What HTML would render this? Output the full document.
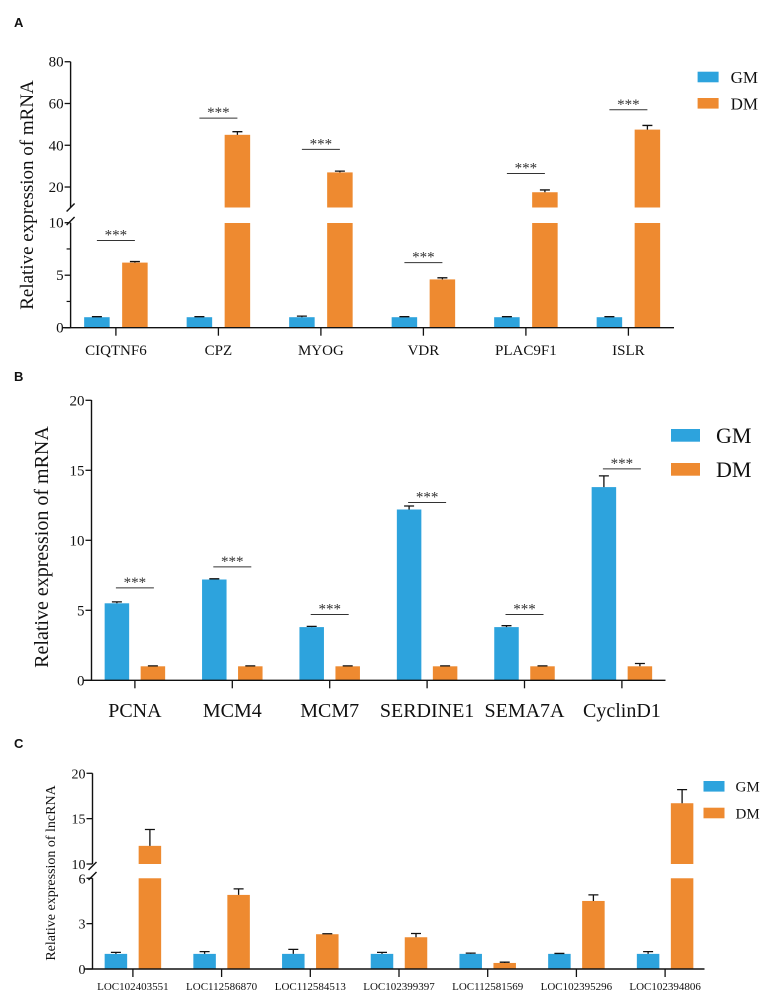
<!DOCTYPE html>
<html><head><meta charset="utf-8"><style>
body{margin:0;background:#fff;}
svg{display:block;font-family:"Liberation Serif",serif;}
</style></head><body>
<svg id="fig" width="762" height="991" viewBox="0 0 762 991" xmlns="http://www.w3.org/2000/svg"></svg>
<script>
// Panel A data
const catsA = ["CIQTNF6","CPZ","MYOG","VDR","PLAC9F1","ISLR"];
const gmA = [1,1,1,1,1,1];
const gmErrA = [1.05,1.05,1.1,1.05,1.05,1.05];
const dmA = [6.2,45,27,4.6,17.5,47.5];
const dmErrA = [6.3,46.5,27.6,4.75,18.6,49.5];
const sigA = [8.3,53,38,6.2,26.5,57];
// Panel B data
const catsB = ["PCNA","MCM4","MCM7","SERDINE1","SEMA7A","CyclinD1"];
const gmB = [5.5,7.2,3.8,12.2,3.8,13.8];
const gmErrB = [5.6,7.25,3.85,12.45,3.9,14.6];
const dmB = [1,1,1,1,1,1];
const dmErrB = [1.03,1.03,1.03,1.03,1.03,1.2];
const sigB = [6.6,8.1,4.7,12.7,4.7,15.1];
// Panel C data
const catsC = ["LOC102403551","LOC112586870","LOC112584513","LOC102399397","LOC112581569","LOC102395296","LOC102394806"];
const gmC = [1,1,1,1,1,1,1];
const gmErrC = [1.1,1.15,1.3,1.1,1.05,1.03,1.15];
const dmC = [12,4.9,2.3,2.1,0.4,4.5,16.7];
const dmErrC = [13.8,5.3,2.33,2.35,0.45,4.9,18.2];
const ticksA = [0,5,10,20,40,60,80];
const ticksB = [0,5,10,15,20];
const ticksC = [0,3,6,10,15,20];

const BLUE="#2da3dd", ORANGE="#ee8a30";
const NS="http://www.w3.org/2000/svg";
const svg=document.getElementById('fig');
function el(tag,attrs,parent){const e=document.createElementNS(NS,tag);for(const k in attrs)e.setAttribute(k,attrs[k]);(parent||svg).appendChild(e);return e;}
function txt(s,attrs,parent){const t=el('text',attrs,parent);t.textContent=s;return t;}

function panel(cfg){
  const g=el('g',{});
  
  
  const y=cfg.y;
  function bar(cx,w,v,color,name){
    const parts=cfg.segs(v);
    parts.forEach(p=>{
      const r=el('rect',{x:cx-w/2,y:p[1],width:w,height:p[0]-p[1],fill:color},g);
      
      
    });
  }
  function err(cx,v,e,cap){
    if(e<=v)return;
    const l=el('path',{d:`M${cx} ${y(v)}V${y(e)}M${cx-cap} ${y(e)}H${cx+cap}`,stroke:'#111','stroke-width':1.3,fill:'none'},g);
    
    
  }
  cfg.cats.forEach((c,i)=>{
    const tx=cfg.x0+i*cfg.step;
    bar(tx-cfg.off,cfg.bw,cfg.gm[i],BLUE,'bar-gm-'+c.toLowerCase());
    err(tx-cfg.off,cfg.gm[i],cfg.gmErr[i],cfg.cap);
    bar(tx+cfg.off,cfg.bw,cfg.dm[i],ORANGE,'bar-dm-'+c.toLowerCase());
    err(tx+cfg.off,cfg.dm[i],cfg.dmErr[i],cfg.cap);
    const tk=el('line',{x1:tx,x2:tx,y1:cfg.zero,y2:cfg.zero+8,stroke:'#111','stroke-width':1.3},g);
    
    
    const lb=txt(c,{x:tx,y:cfg.labY,'font-size':cfg.labFs,'text-anchor':'middle',fill:'#111'},g);
    
    
    if(cfg.sig){
      const sy=y(cfg.sig[i]);
      const sl=el('line',{x1:tx-19,x2:tx+19,y1:sy,y2:sy,stroke:'#333','stroke-width':1},g);
      
      
      const st=txt('***',{x:tx,y:sy-1,'font-size':15,'text-anchor':'middle',fill:'#333'},g);
      
      
    }
  });
  const ax=el('path',{d:cfg.axisPath,stroke:'#111','stroke-width':1.4,fill:'none'},g);
  
  
  const xa=el('line',{x1:cfg.ax-8,x2:cfg.axEnd,y1:cfg.zero,y2:cfg.zero,stroke:'#111','stroke-width':1.4},g);
  
  
  cfg.ticks.forEach(t=>{
    const ty=y(t);
    const l=el('line',{x1:cfg.ax-6,x2:cfg.ax,y1:ty,y2:ty,stroke:'#111','stroke-width':1.3},g);
    
    
    const tl=txt(String(t),{x:cfg.ax-7,y:ty+5,'font-size':cfg.tickFs,'text-anchor':'end',fill:'#111'},g);
    
    
  });
  (cfg.minor||[]).forEach(t=>{
    const ty=y(t);
    const l=el('line',{x1:cfg.ax-4,x2:cfg.ax,y1:ty,y2:ty,stroke:'#111','stroke-width':1.2},g);
    
    
  });
  (cfg.breaks||[]).forEach(b=>{
    const s=el('line',{x1:cfg.ax-4,x2:cfg.ax+4,y1:b+4,y2:b-4,stroke:'#111','stroke-width':1.4},g);
    
    
  });
  const yl=txt(cfg.ylabel,{x:0,y:0,'font-size':cfg.ylFs,'text-anchor':'middle',fill:'#111',transform:`translate(${cfg.ylX},${cfg.ylY}) rotate(-90)`},g);
  
  
  [['GM',BLUE,cfg.leg[2]],['DM',ORANGE,cfg.leg[3]]].forEach(([n,c,ly])=>{
    const r=el('rect',{x:cfg.leg[0],y:ly,width:cfg.leg[1],height:cfg.leg[4],fill:c},g);
    
    
    const t=txt(n,{x:cfg.leg[0]+cfg.leg[1]+cfg.leg[5],y:ly+cfg.leg[4]/2+cfg.legFs*0.35,'font-size':cfg.legFs,fill:'#111'},g);
    
    
  });
  const pl=txt(cfg.letter,{x:14,y:cfg.letterY,'font-size':13,'font-weight':'bold','font-family':'Liberation Sans, sans-serif',fill:'#111'},g);
  
  
}

const yA=v=> v<=10 ? 327.7 - v*10.5 : 207.9 - (v-10)*2.088;
panel({name:'panel-a-chart',letter:'A',letterY:27,cats:catsA,gm:gmA,gmErr:gmErrA,dm:dmA,dmErr:dmErrA,sig:sigA,
  y:yA,zero:327.7,ax:70.6,axEnd:674,x0:115.9,step:102.5,off:19,bw:25.5,cap:5,
  segs:v=> v<=10?[[327.7,yA(v)]]:[[327.7,yA(10)+0.3],[207.5,yA(v)]],
  labY:355,labFs:15,ticks:ticksA,minor:[2.5,7.5],tickFs:15,
  axisPath:'M70.6 61.7V207.5M70.6 222.7V327.7',breaks:[207.5,221],
  ylabel:'Relative expression of mRNA',ylFs:19,ylX:33,ylY:195,
  leg:[697.6,21,71.7,98,10.6,12],legFs:17});
const yB=v=>680.3 - v*14;
panel({name:'panel-b-chart',letter:'B',letterY:381,cats:catsB,gm:gmB,gmErr:gmErrB,dm:dmB,dmErr:dmErrB,sig:sigB,
  y:yB,zero:680.3,ax:91.5,axEnd:665.5,x0:134.9,step:97.4,off:18,bw:24.5,cap:5,
  segs:v=>[[680.3,yB(v)]],
  labY:717,labFs:20,ticks:ticksB,minor:[],tickFs:15,
  axisPath:'M91.5 400V680.3',breaks:[],
  ylabel:'Relative expression of mRNA',ylFs:20,ylX:48,ylY:547,
  leg:[671,29,429,463,12.7,16],legFs:22});
const yC=v=> v<=6 ? 969 - v*15.12 : 864 - (v-10)*9.07;
panel({name:'panel-c-chart',letter:'C',letterY:748,cats:catsC,gm:gmC,gmErr:gmErrC,dm:dmC,dmErr:dmErrC,sig:null,
  y:yC,zero:969,ax:92.5,axEnd:704.5,x0:132.9,step:88.7,off:17,bw:22.5,cap:5,
  segs:v=> v<=6?[[969,yC(v)]]:[[969,yC(6)],[864,yC(v)]],
  labY:990,labFs:11,ticks:ticksC,minor:[],tickFs:14,
  axisPath:'M92.5 773.3V864M92.5 878.3V969',breaks:[866,876],
  ylabel:'Relative expression of lncRNA',ylFs:14,ylX:55,ylY:873,
  leg:[703.5,21,781,807.7,10.6,11],legFs:15});
</script>
</body></html>
